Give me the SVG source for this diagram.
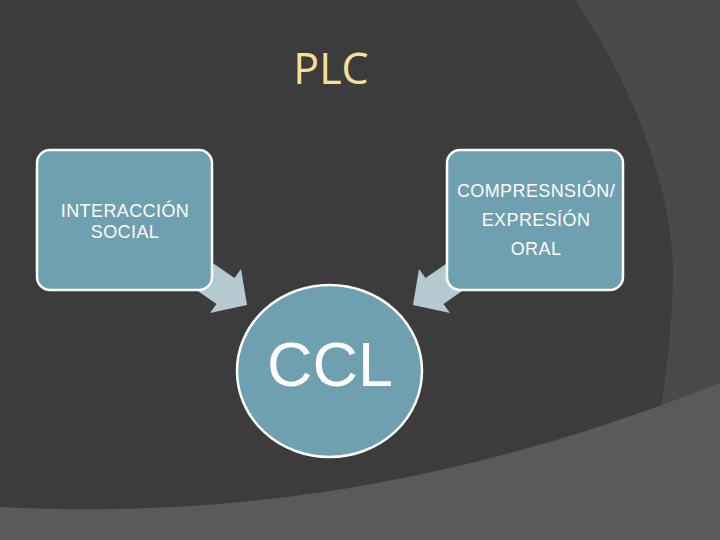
<svg xmlns="http://www.w3.org/2000/svg" width="720" height="540" viewBox="0 0 720 540">
  <style>
    .box { fill: #6ea0b0; stroke: #ffffff; stroke-width: 2.5; }
    .lbl { font-family: "Liberation Sans", Arial, sans-serif; font-size: 18px; fill: #ffffff; text-anchor: middle; letter-spacing: 0.4px; }
    .arrow { fill: #b6c9d1; }
  </style>
  <g id="background">
    <rect x="0" y="0" width="720" height="540" fill="#3c3c3c"/>
    <path d="M575,0 C630,80 675,190 673,280 C672,330 666,370 660,420 L720,420 L720,0 Z" fill="#4a4a4a"/>
    <path d="M0,507 C220,518 450,490 720,383 L720,540 L0,540 Z" fill="#5a5a5a"/>
  </g>
  <g id="title">
    <text x="331" y="84" font-family="'Open Sans', 'DejaVu Sans', sans-serif" font-size="43" fill="#f3e09a" text-anchor="middle">PLC</text>
  </g>
  <g id="connectors">
    <polygon class="arrow" points="201,255 234.5,278 241,269 247,305 210,313 216.5,304 183.5,281"/>
    <polygon class="arrow" points="459,255 425.5,278 419,269 413,305 450,313 443.5,304 476.5,281"/>
  </g>
  <g id="node-interaccion">
    <rect class="box" x="37" y="150" width="175" height="140" rx="13" ry="13"/>
    <text class="lbl" x="125" y="217">INTERACCIÓN</text>
    <text class="lbl" x="125" y="238">SOCIAL</text>
  </g>
  <g id="node-compresion">
    <rect class="box" x="447" y="150" width="176" height="140" rx="13" ry="13"/>
    <text class="lbl" x="536" y="197">COMPRESNSIÓN/</text>
    <text class="lbl" x="536" y="226">EXPRESÍÓN</text>
    <text class="lbl" x="536" y="255">ORAL</text>
  </g>
  <g id="node-ccl">
    <ellipse class="box" cx="329.5" cy="371" rx="92.5" ry="86"/>
    <text x="330" y="386" font-family="'Liberation Sans', Arial, sans-serif" font-size="63" fill="#ffffff" text-anchor="middle">CCL</text>
  </g>
</svg>
